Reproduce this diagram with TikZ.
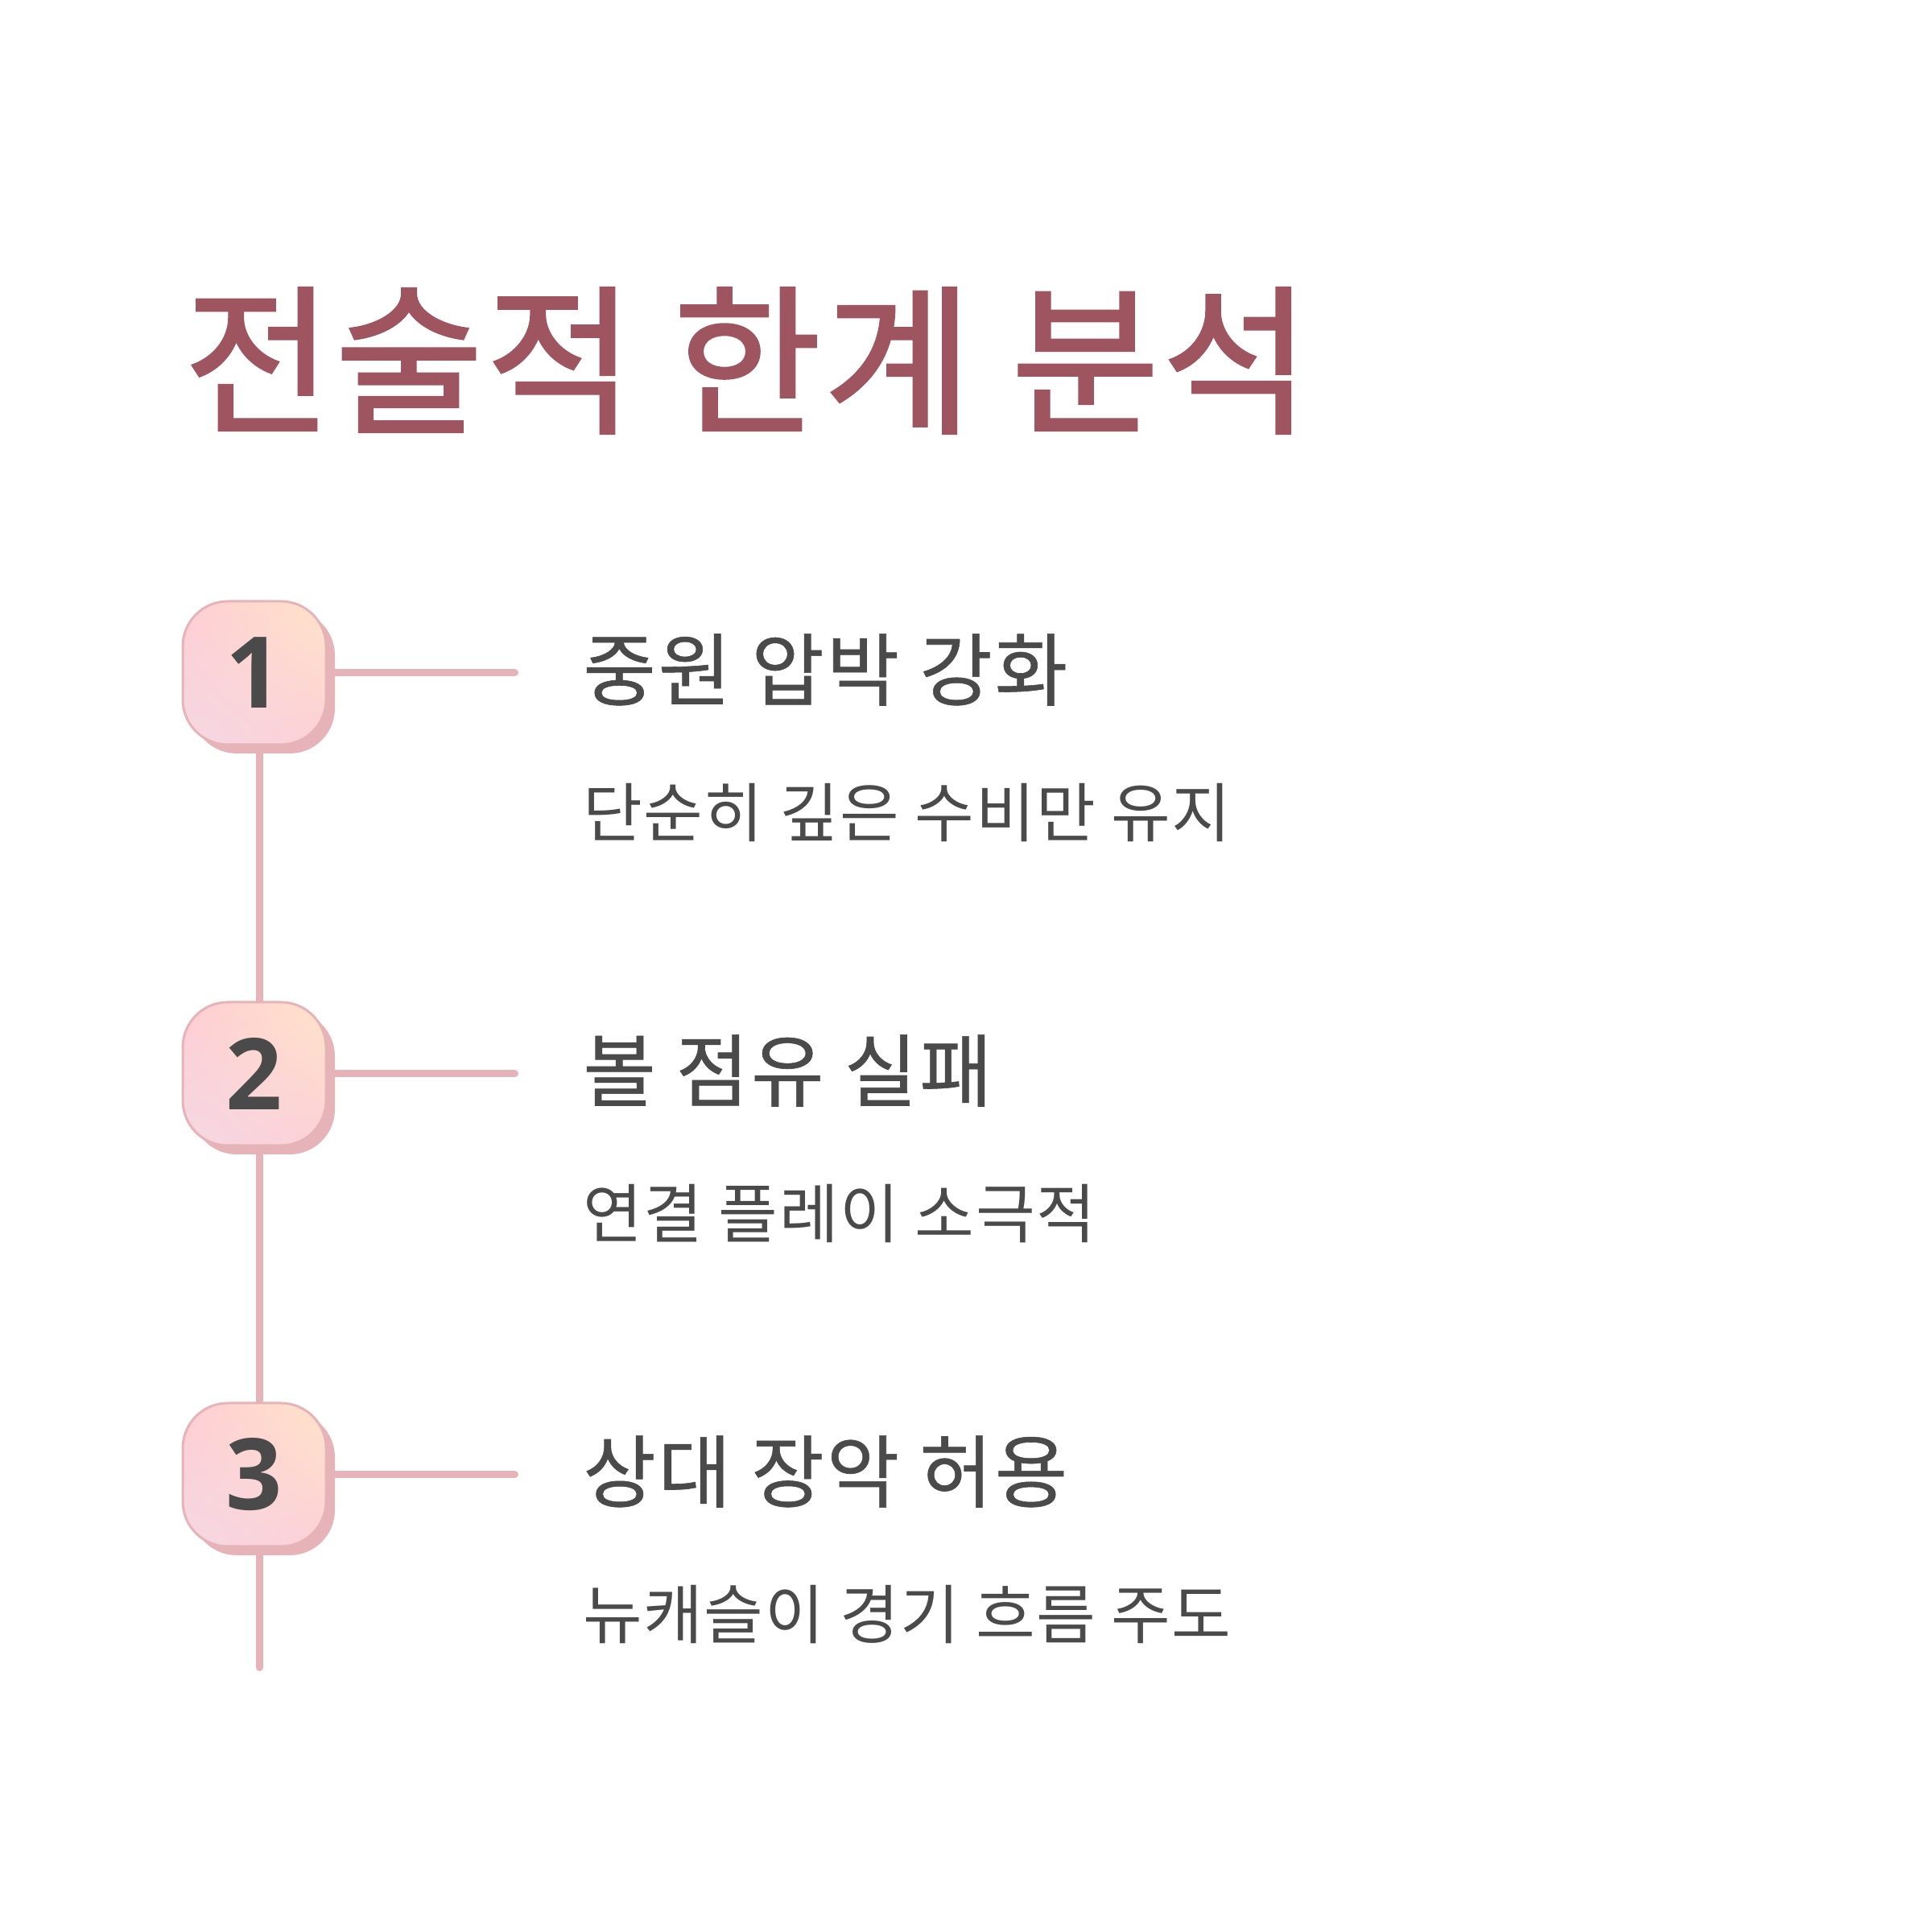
\documentclass[tikz,border=0pt]{standalone}
\usepackage{fontspec}
\setmainfont{Noto Sans CJK KR}
\newfontfamily\titlefont[FakeBold=1.5,LetterSpace=1.6]{Noto Sans CJK KR}
\newfontfamily\headfont[FakeBold=0.6,LetterSpace=3]{Noto Sans CJK KR}
\newfontfamily\subfont[LetterSpace=2]{Noto Sans CJK KR}
\newfontfamily\numfont{Open Sans}
\usetikzlibrary{positioning,shadows,shadings,backgrounds}
\definecolor{titlerose}{RGB}{158,85,96}
\definecolor{inkgray}{RGB}{74,74,74}
\definecolor{railpink}{RGB}{230,179,184}
\definecolor{badgepeach}{RGB}{255,227,201}
\definecolor{badgepink}{RGB}{255,205,211}
\definecolor{badgerose}{RGB}{253,208,214}
\definecolor{badgelilac}{RGB}{244,216,228}

\begin{document}
\begin{tikzpicture}[x=1cm,y=1cm,
    badge/.style={rectangle,rounded corners=0.56cm,minimum size=1.78cm,inner sep=0pt,
      draw=railpink,line width=0.03cm,
      upper right=badgepeach,upper left=badgepink,lower right=badgerose,lower left=badgelilac,
      drop shadow={fill=railpink,opacity=1,shadow xshift=0.11cm,shadow yshift=-0.11cm},
      text=inkgray,font=\numfont\bfseries\fontsize{35}{42}\selectfont},
    headline/.style={anchor=west,inner sep=0pt,text=inkgray,font=\headfont\fontsize{28}{34}\selectfont},
    subline/.style={anchor=west,inner sep=0pt,text=inkgray,font=\subfont\fontsize{22.8}{28}\selectfont},
    rail/.style={draw=railpink,line width=0.09cm,line cap=round}]
  \useasboundingbox (0,0) rectangle (24,24);

  % title
  \node[anchor=west,inner sep=0pt,text=titlerose,font=\titlefont\fontsize{57}{68}\selectfont] (title) at (2.28,19.52) {전술적 한계 분석};

  % steps
  \node[badge] (b1) at (3.16,15.64) {1};
  \node[badge,below=3.17cm of b1] (b2) {2};
  \node[badge,below=3.17cm of b2] (b3) {3};

  \node[headline,right=3.17cm of b1,yshift=0.04cm] (h1) {중원 압박 강화};
  \node[subline,below=1.78cm of h1.west,anchor=west] (s1) {단순히 깊은 수비만 유지};
  \node[headline,right=3.17cm of b2,yshift=0.04cm] (h2) {볼 점유 실패};
  \node[subline,below=1.78cm of h2.west,anchor=west] (s2) {연결 플레이 소극적};
  \node[headline,right=3.17cm of b3,yshift=0.04cm] (h3) {상대 장악 허용};
  \node[subline,below=1.78cm of h3.west,anchor=west] (s3) {뉴캐슬이 경기 흐름 주도};

  % rail ends
  \coordinate[right=2.33cm of b1.east] (e1);
  \coordinate[right=2.33cm of b2.east] (e2);
  \coordinate[right=2.33cm of b3.east] (e3);
  \coordinate[below=1.49cm of b3.south,xshift=0.06cm] (tail);

  \begin{scope}[on background layer]
    \draw[rail] ([xshift=0.06cm]b1.center) -- ([xshift=0.06cm]b2.center);
    \draw[rail] ([xshift=0.06cm]b2.center) -- ([xshift=0.06cm]b3.center);
    \draw[rail] ([xshift=0.06cm]b3.center) -- (tail);
    \draw[rail] (b1.center) -- (e1);
    \draw[rail] (b2.center) -- (e2);
    \draw[rail] (b3.center) -- (e3);
  \end{scope}
\end{tikzpicture}
\end{document}
